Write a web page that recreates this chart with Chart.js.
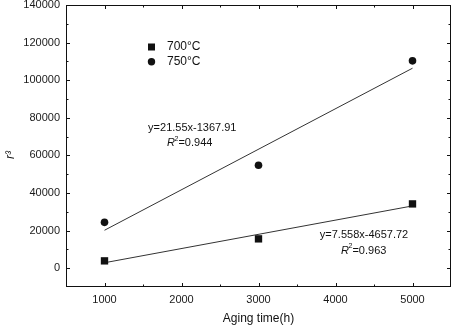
<!DOCTYPE html>
<html>
<head>
<meta charset="utf-8">
<script src="https://cdn.jsdelivr.net/npm/chart.js@4.4.0/dist/chart.umd.min.js"></script>
<style>
html, body { margin: 0; padding: 0; background: #fff; }
#wrap { width: 452px; height: 327px; }
</style>
</head>
<body>
<div id="wrap"><canvas id="chart-r3" width="452" height="327"></canvas></div>
<script>
const agingTimes = [1000, 3000, 5000];
const r3At700 = [3900, 15600, 34200];
const r3At750 = [24400, 54800, 110300];
const fitTimes = [1000, 5000];
const fit700 = [2900, 33130];
const fit750 = [20180, 106380];
const xTickValues = [1000, 2000, 3000, 4000, 5000];
const yTickValues = [0, 20000, 40000, 60000, 80000, 100000, 120000, 140000];
const seriesLabels = ['700°C', '750°C'];
const fitEquations = ['y=21.55x-1367.91', 'y=7.558x-4657.72'];
const fitR2 = ['0.944', '0.963'];

const FONT = '"Liberation Sans", Arial, sans-serif';

const toPoints = (xs, ys) => xs.map((v, i) => ({x: v, y: ys[i]}));

// frame on four sides with inward major/minor ticks
const frameTicks = {
    id: 'frameTicks',
    afterDraw(chart) {
        const {ctx, chartArea: a, scales: {x, y}} = chart;
        ctx.save();
        ctx.strokeStyle = '#111';
        ctx.lineWidth = 1;
        ctx.strokeRect(a.left + 0.5, a.top + 0.5, a.right - a.left - 1, a.bottom - a.top - 1);

        ctx.beginPath();
        for (let v = x.min + 500; v < x.max; v += 500) {
            let len = v % 1000 === 0 ? 4 : 2.5;
            let px = Math.round(x.getPixelForValue(v)) + 0.5;
            ctx.moveTo(px, a.bottom);
            ctx.lineTo(px, a.bottom - len);
            ctx.moveTo(px, a.top);
            ctx.lineTo(px, a.top + len);
        }
        for (let v = y.min + 10000; v < y.max; v += 10000) {
            let len = v % 20000 === 0 ? 4 : 2.5;
            let py = Math.round(y.getPixelForValue(v)) + 0.5;
            ctx.moveTo(a.left, py);
            ctx.lineTo(a.left + len, py);
            ctx.moveTo(a.right, py);
            ctx.lineTo(a.right - len, py);
        }
        ctx.stroke();

        // y axis title, r cubed, in italics
        ctx.translate(11, 155);
        ctx.rotate(-Math.PI / 2);
        ctx.fillStyle = '#111';
        ctx.font = 'italic 12px ' + FONT;
        ctx.textAlign = 'center';
        ctx.textBaseline = 'middle';
        ctx.fillText('r³', 0, 0);
        ctx.restore();
    }
};

function drawR2(ctx, cx, cy, value) {
    ctx.font = 'italic 11px ' + FONT;
    let wR = ctx.measureText('R').width;
    ctx.font = '7px ' + FONT;
    let w2 = ctx.measureText('2').width;
    ctx.font = '11px ' + FONT;
    let wRest = ctx.measureText('=' + value).width;
    let start = cx - (wR + w2 + wRest) / 2;

    ctx.textAlign = 'left';
    ctx.textBaseline = 'middle';
    ctx.font = 'italic 11px ' + FONT;
    ctx.fillText('R', start, cy);
    ctx.font = '7px ' + FONT;
    ctx.fillText('2', start + wR - 0.5, cy - 4);
    ctx.font = '11px ' + FONT;
    ctx.fillText('=' + value, start + wR + w2 - 0.5, cy);
}

// in-plot legend and fit equations
const notes = {
    id: 'notes',
    afterDatasetsDraw(chart) {
        const {ctx, chartArea: a, scales: {x, y}} = chart;
        ctx.save();
        ctx.fillStyle = '#111';

        ctx.fillRect(a.left + 82, a.top + 38.5, 7, 7);
        ctx.beginPath();
        ctx.arc(a.left + 85.5, a.top + 56.7, 3.7, 0, Math.PI * 2);
        ctx.fill();

        ctx.font = '12px ' + FONT;
        ctx.textAlign = 'left';
        ctx.textBaseline = 'middle';
        ctx.fillText(seriesLabels[0], a.left + 101, a.top + 42);
        ctx.fillText(seriesLabels[1], a.left + 101, a.top + 57);

        ctx.font = '11px ' + FONT;
        ctx.textAlign = 'center';
        ctx.fillText(fitEquations[0], x.getPixelForValue(2140), y.getPixelForValue(74700));
        drawR2(ctx, x.getPixelForValue(2110), y.getPixelForValue(66700), fitR2[0]);

        ctx.font = '11px ' + FONT;
        ctx.textAlign = 'center';
        ctx.fillText(fitEquations[1], x.getPixelForValue(4370), y.getPixelForValue(17900));
        drawR2(ctx, x.getPixelForValue(4370), y.getPixelForValue(9400), fitR2[1]);
        ctx.restore();
    }
};

new Chart(document.getElementById('chart-r3'), {
    type: 'scatter',
    data: {
        datasets: [
            {
                label: seriesLabels[0],
                data: toPoints(agingTimes, r3At700),
                pointStyle: 'rect',
                pointRadius: 5.2,
                backgroundColor: '#111',
                borderColor: '#111',
                borderWidth: 0,
            },
            {
                label: seriesLabels[1],
                data: toPoints(agingTimes, r3At750),
                pointStyle: 'circle',
                pointRadius: 3.8,
                backgroundColor: '#111',
                borderColor: '#111',
                borderWidth: 0,
            },
            {
                label: 'fit 700',
                data: toPoints(fitTimes, fit700),
                showLine: true,
                pointRadius: 0,
                borderColor: '#333',
                borderWidth: 1,
            },
            {
                label: 'fit 750',
                data: toPoints(fitTimes, fit750),
                showLine: true,
                pointRadius: 0,
                borderColor: '#333',
                borderWidth: 1,
            },
        ]
    },
    options: {
        responsive: false,
        animation: false,
        layout: {autoPadding: false, padding: {left: 0, right: 1, top: 5, bottom: 0}},
        plugins: {
            legend: {display: false},
            tooltip: {enabled: false},
        },
        scales: {
            x: {
                type: 'linear',
                min: 500,
                max: 5500,
                afterBuildTicks: scale => { scale.ticks = xTickValues.map(v => ({value: v})); },
                afterFit: scale => {
                    scale.height = 40;
                    scale.paddingLeft = 0;
                    scale.paddingRight = 0;
                },
                grid: {display: false, drawTicks: false},
                border: {display: false},
                ticks: {
                    padding: 6,
                    color: '#1a1a1a',
                    font: {family: FONT, size: 11},
                    callback: v => String(v),
                },
                title: {
                    display: true,
                    text: 'Aging time(h)',
                    color: '#111',
                    font: {family: FONT, size: 12},
                    padding: {top: 0, bottom: 1},
                },
            },
            y: {
                type: 'linear',
                min: -10000,
                max: 140000,
                afterBuildTicks: scale => { scale.ticks = yTickValues.map(v => ({value: v})); },
                afterFit: scale => {
                    scale.width = 66;
                    scale.paddingTop = 0;
                    scale.paddingBottom = 0;
                },
                grid: {display: false, drawTicks: false},
                border: {display: false},
                ticks: {
                    padding: 6,
                    color: '#1a1a1a',
                    font: {family: FONT, size: 11},
                    callback: v => String(v),
                },
            },
        },
    },
    plugins: [frameTicks, notes],
});
</script>
</body>
</html>
